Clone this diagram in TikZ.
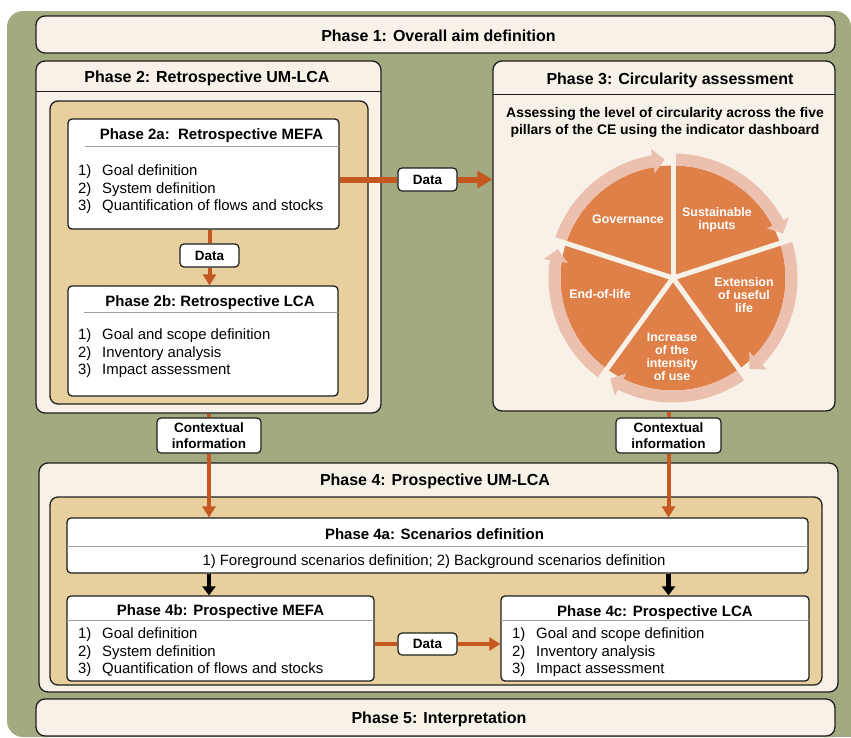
\documentclass[tikz,border=0pt]{standalone}
\usepackage{fontspec}
\setmainfont{Liberation Sans}
\usetikzlibrary{arrows.meta,bending,fit}
\definecolor{olivebg}{RGB}{163,170,128}
\definecolor{creamc}{RGB}{248,241,231}
\definecolor{tanc}{RGB}{231,208,158}
\definecolor{arrorange}{RGB}{196,88,32}
\definecolor{pieor}{RGB}{222,128,72}
\definecolor{ringc}{RGB}{236,192,174}
\definecolor{bordc}{RGB}{30,30,30}
\newcommand\hdrfont{\fontsize{16}{19}\selectfont\bfseries}
\newcommand\ttlfont{\fontsize{15}{18}\selectfont\bfseries}
\newcommand\bodyfont{\fontsize{14.9}{18}\selectfont}
\newcommand\lblfont{\fontsize{13.5}{16.5}\selectfont\bfseries}
\newcommand\subfont{\fontsize{13.9}{17}\selectfont\bfseries}
\newcommand\piefont{\fontsize{12.4}{13}\selectfont\bfseries}
\tikzset{
  frame/.style={draw=bordc, line width=1.3pt, inner sep=0pt},
  creambox/.style={frame, fill=creamc, rounded corners=9pt},
  tanbox/.style={frame, fill=tanc, rounded corners=8pt},
  whitebox/.style={frame, fill=white, rounded corners=4pt},
  lbl/.style={draw=bordc, line width=1.2pt, fill=white, rounded corners=4pt, font=\lblfont, align=center, inner sep=0pt},
  hdr/.style={font=\hdrfont, anchor=base, inner sep=0pt},
  ttl/.style={font=\ttlfont, anchor=base, inner sep=0pt},
  body/.style={font=\bodyfont, anchor=base west, inner sep=0pt},
  pietxt/.style={font=\piefont, text=white, align=center, inner sep=0pt},
  sepline/.style={draw=gray!75, line width=1pt},
  hdrline/.style={draw=bordc, line width=1pt},
  oline/.style={draw=arrorange, line width=4pt},
  oarr/.style={oline, -{Triangle[width=13pt,length=11pt]}},
  barr/.style={draw=black, line width=4.5pt, -{Triangle[width=13pt,length=9pt]}}
}
\begin{document}
\begin{tikzpicture}[x=1pt,y=-1pt]
\useasboundingbox (0,0) rectangle (851,737);
\fill[white] (0,0) rectangle (851,737);
\fill[olivebg, rounded corners=16pt] (7,11) rectangle (851,737);
\fill[olivebg] (820,700) rectangle (851,737);

% Phase 1
\node[creambox, fit={(36,16)(835,53)}] (p1) {};
\node[hdr] (t1) at (438.5,41) {Phase 1: Overall aim definition};

% Phase 2
\node[creambox, fit={(36,61)(381,413)}] (p2) {};
\draw[hdrline] (36,91) -- (381,91);
\node[hdr] (t2) at (207,82) {Phase 2: Retrospective UM-LCA};
\node[tanbox, fit={(50,101)(368,404)}] (tan2) {};

\node[whitebox, fit={(68,119)(339,229)}] (p2a) {};
\draw[sepline] (85,146) -- (339,146);
\node[ttl] (t2a) at (211.5,139) {Phase 2a:\ \ Retrospective MEFA};
\foreach \y/\t [count=\i] in {175/Goal definition,193/System definition,210/Quantification of flows and stocks}{
  \node[body] (n2a\i) at (78,\y) {\i)};
  \node[body] (l2a\i) at (102,\y) {\t};
}

\node[whitebox, fit={(68,286)(338,396)}] (p2b) {};
\draw[sepline] (84,312) -- (338,312);
\node[ttl] (t2b) at (210,306) {Phase 2b:\ Retrospective LCA};
\foreach \y/\t [count=\i] in {339/Goal and scope definition,357/Inventory analysis,374/Impact assessment}{
  \node[body] (n2b\i) at (78,\y) {\i)};
  \node[body] (l2b\i) at (102,\y) {\t};
}

% Phase 3
\node[creambox, fit={(493,61)(835,411)}] (p3) {};
\draw[hdrline] (493,94) -- (835,94);
\node[hdr] (t3) at (670,84) {Phase 3: Circularity assessment};
\node[font=\subfont, anchor=base, inner sep=0pt] (s3a) at (665,117) {Assessing\ the level\ of circularity\ across the five};
\node[font=\subfont, anchor=base, inner sep=0pt] (s3b) at (665,134) {pillars\ of the CE using\ the indicator\ dashboard};

% Pie chart
\begin{scope}[shift={(673,278)}, y=1pt]
  \foreach \a in {90,18,-54,-126,162}{
    \fill[pieor] (0,0) -- (\a:112.5) arc[start angle=\a, end angle=\a-72, radius=112.5] -- cycle;
  }
  \foreach \a in {90,18,-54,-126,162}{
    \draw[ringc, line width=12pt, -{Triangle[width=24pt,length=12pt,bend]}]
      (\a-1:118.5) arc[start angle=\a-1, end angle=\a-68, radius=118.5];
  }
  \foreach \a in {90,18,-54,-126,162}{
    \draw[creamc, line width=5pt] (0,0) -- (\a:126);
  }
\end{scope}
\node[pietxt] (w1) at (628,219) {Governance};
\node[pietxt] (w2) at (717,220) {Sustainable\\inputs};
\node[pietxt] (w3) at (744,295) {Extension\\of useful\\life};
\node[pietxt] (w4) at (672,356.5) {Increase\\of the\\intensity\\of use};
\node[pietxt] (w5) at (600,294) {End-of-life};

% Phase 4
\node[creambox, fit={(39,463)(838,692)}] (p4) {};
\node[hdr] (t4) at (435,485) {Phase 4: Prospective UM-LCA};
\node[tanbox, fit={(50,497)(822,685)}] (tan4) {};

\node[whitebox, fit={(67,518)(808,573)}] (p4a) {};
\draw[sepline] (67,546) -- (808,546);
\node[ttl] (t4a) at (434.5,539) {Phase 4a: Scenarios definition};
\node[font=\bodyfont, anchor=base, inner sep=0pt] (l4a) at (434,565) {1) Foreground scenarios definition; 2) Background scenarios definition};

\node[whitebox, fit={(67,596)(374,681)}] (p4b) {};
\draw[sepline] (67,620) -- (374,620);
\node[ttl] (t4b) at (220.5,615) {Phase 4b: Prospective MEFA};
\foreach \y/\t [count=\i] in {638/Goal definition,656/System definition,673/Quantification of flows and stocks}{
  \node[body] (n4b\i) at (78,\y) {\i)};
  \node[body] (l4b\i) at (102,\y) {\t};
}

\node[whitebox, fit={(501,596)(809,681)}] (p4c) {};
\draw[sepline] (501,620) -- (809,620);
\node[ttl] (t4c) at (655,616) {Phase 4c: Prospective LCA};
\foreach \y/\t [count=\i] in {638/Goal and scope definition,656/Inventory analysis,673/Impact assessment}{
  \node[body] (n4c\i) at (512,\y) {\i)};
  \node[body] (l4c\i) at (536,\y) {\t};
}

% Phase 5
\node[creambox, fit={(36,699)(835,736)}] (p5) {};
\node[hdr] (t5) at (439,723) {Phase 5: Interpretation};

% Labels
\node[lbl, minimum width=59pt, minimum height=23pt] (dtop) at (427.5,179.5) {Data};
\node[lbl, minimum width=59pt, minimum height=23pt] (d2) at (209.5,255.5) {Data};
\node[lbl, minimum width=59pt, minimum height=22pt] (d3) at (427.5,644) {Data};
\node[lbl, minimum width=104pt, minimum height=35pt] (ctxL) at (209,435.5) {Contextual\\information};
\node[lbl, minimum width=105pt, minimum height=35pt] (ctxR) at (668.5,435.5) {Contextual\\information};

% Connectors
\draw[oline, line width=6pt] (p2a.east |- dtop) -- (dtop.west);
\draw[oarr, line width=6pt, -{Triangle[width=17pt,length=15pt]}] (dtop.east) -- (p3.west |- dtop);
\draw[oline] (d2 |- p2a.south) -- (d2.north);
\draw[oarr] (d2.south) -- (d2 |- p2b.north);
\draw[oline] (ctxL |- p2.south) -- (ctxL.north);
\draw[oarr] (ctxL.south) -- (ctxL |- p4a.north);
\draw[oline] (ctxR |- p3.south) -- (ctxR.north);
\draw[oarr] (ctxR.south) -- (ctxR |- p4a.north);
\draw[barr] (ctxL |- p4a.south) -- (ctxL |- p4b.north);
\draw[barr] (ctxR |- p4a.south) -- (ctxR |- p4c.north);
\draw[oline] (p4b.east |- d3) -- (d3.west);
\draw[oarr] (d3.east) -- (p4c.west |- d3);
\end{tikzpicture}
\end{document}
